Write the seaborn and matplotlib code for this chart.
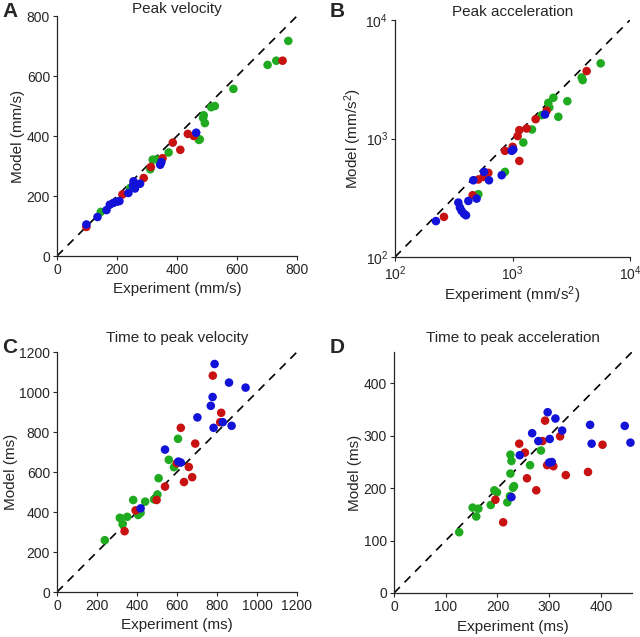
import numpy as np
import pandas as pd
import matplotlib
matplotlib.use("Agg")
import matplotlib.pyplot as plt
import seaborn as sns

sns.set_style("ticks")
plt.rcParams['font.family'] = ['Liberation Sans', 'DejaVu Sans']
plt.rcParams['mathtext.fontset'] = 'custom'
plt.rcParams['mathtext.rm'] = 'Liberation Sans'
plt.rcParams['mathtext.it'] = 'Liberation Sans:italic'
plt.rcParams['mathtext.bf'] = 'Liberation Sans:bold'

# Panel A: peak velocity (mm/s)
a_green_x = [146, 244, 311, 319, 331, 372, 473, 476, 487, 489, 493, 514, 526, 588, 702, 731, 771]
a_green_y = [147, 227, 289, 321, 322, 345, 387, 389, 460, 469, 443, 496, 500, 557, 637, 651, 717]
a_red_x = [98, 218, 255, 289, 313, 352, 386, 411, 436, 456, 752]
a_red_y = [97, 205, 236, 260, 297, 326, 378, 354, 407, 400, 651]
a_blue_x = [98, 135, 165, 176, 188, 199, 208, 238, 253, 255, 260, 277, 344, 348, 464]
a_blue_y = [105, 130, 153, 171, 177, 181, 183, 210, 234, 249, 225, 241, 304, 313, 411]

# Panel B: peak acceleration (mm/s^2)
b_green_x = [512, 863, 1236, 1465, 1772, 2017, 2057, 2227, 2456, 2930, 3880, 3956, 5627]
b_green_y = [339, 523, 925, 1191, 1574, 2000, 1827, 2208, 1525, 2065, 3274, 3110, 4305]
b_red_x = [261, 458, 512, 565, 623, 863, 1003, 1106, 1143, 1143, 1320, 1574, 1953, 4277]
b_red_y = [218, 332, 451, 474, 513, 787, 851, 1048, 1176, 647, 1215, 1455, 1714, 3706]
b_blue_x = [223, 346, 357, 369, 386, 402, 421, 495, 464, 572, 631, 809, 985, 1016, 1892]
b_blue_y = [201, 288, 261, 245, 232, 225, 297, 311, 444, 523, 444, 490, 787, 807, 1596]

# Panel C: time to peak velocity (ms)
c_green_x = [239, 314, 319, 328, 351, 381, 406, 418, 441, 485, 502, 508, 559, 585, 605]
c_green_y = [259, 371, 368, 339, 376, 460, 385, 396, 452, 463, 487, 569, 661, 624, 766]
c_red_x = [338, 393, 498, 540, 599, 619, 635, 659, 676, 691, 779, 821, 816]
c_red_y = [304, 408, 460, 527, 644, 821, 550, 625, 574, 742, 1082, 896, 849]
c_blue_x = [418, 540, 607, 619, 702, 769, 778, 788, 783, 829, 860, 873, 943]
c_blue_y = [418, 712, 652, 647, 873, 931, 975, 1140, 821, 849, 1047, 831, 1022]

# Panel D: time to peak acceleration (ms)
d_green_x = [126, 152, 159, 163, 187, 194, 199, 219, 224, 225, 227, 225, 230, 232, 263, 284]
d_green_y = [116, 163, 146, 161, 168, 196, 192, 173, 185, 264, 252, 228, 201, 204, 244, 272]
d_red_x = [211, 196, 242, 253, 257, 275, 287, 292, 296, 308, 321, 332, 375, 403]
d_red_y = [135, 178, 285, 268, 219, 196, 290, 329, 244, 242, 299, 225, 231, 283]
d_blue_x = [227, 243, 267, 279, 297, 301, 300, 305, 312, 325, 379, 382, 446, 457]
d_blue_y = [183, 263, 305, 290, 345, 294, 249, 250, 333, 310, 321, 285, 319, 287]

GREEN = "#20aa20"
RED = "#c81212"
BLUE = "#1212d8"

W, H = 640, 637
fig = plt.figure(figsize=(W / 100, H / 100), dpi=100)


def add_ax(l, r, t, b):
    return fig.add_axes([l / W, 1 - b / H, (r - l) / W, (b - t) / H])


axA = add_ax(57, 297, 16, 256)
axB = add_ax(395, 630, 20, 257)
axC = add_ax(57, 297, 352, 592)
axD = add_ax(394, 632, 352, 593)

panels = [
    (axA, (a_green_x, a_green_y), (a_red_x, a_red_y), (a_blue_x, a_blue_y)),
    (axB, (b_green_x, b_green_y), (b_red_x, b_red_y), (b_blue_x, b_blue_y)),
    (axC, (c_green_x, c_green_y), (c_red_x, c_red_y), (c_blue_x, c_blue_y)),
    (axD, (d_green_x, d_green_y), (d_red_x, d_red_y), (d_blue_x, d_blue_y)),
]

for ax, g, r, b in panels:
    for (xs, ys), col in [(g, GREEN), (r, RED), (b, BLUE)]:
        df = pd.DataFrame({"x": xs, "y": ys})
        sns.scatterplot(data=df, x="x", y="y", ax=ax, color=col, s=38,
                        edgecolor="none", linewidth=0, clip_on=False, zorder=3)

fs_tick = 10
fs_lab = 11
dash = (0, (5, 4))
# Panel A
axA.plot([0, 800], [0, 800], ls=dash, color="black", lw=1.2, zorder=2)
axA.set_xlim(0, 800); axA.set_ylim(0, 800)
axA.set_xticks([0, 200, 400, 600, 800]); axA.set_yticks([0, 200, 400, 600, 800])
axA.set_title("Peak velocity", fontsize=fs_lab, pad=-1)
axA.set_xlabel("Experiment (mm/s)", fontsize=fs_lab)
axA.set_ylabel("Model (mm/s)", fontsize=fs_lab)

# Panel B
axB.set_xscale("log"); axB.set_yscale("log")
axB.plot([100, 10000], [100, 10000], ls=dash, color="black", lw=1.2, zorder=2)
axB.set_xlim(100, 10000); axB.set_ylim(100, 10000)
axB.set_xticks([100, 1000, 10000]); axB.set_yticks([100, 1000, 10000])
axB.minorticks_off()
axB.set_title("Peak acceleration", fontsize=fs_lab, pad=3)
axB.set_xlabel("Experiment (mm/s$^2$)", fontsize=fs_lab)
axB.set_ylabel("Model (mm/s$^2$)", fontsize=fs_lab)

# Panel C
axC.plot([0, 1200], [0, 1200], ls=dash, color="black", lw=1.2, zorder=2)
axC.set_xlim(0, 1200); axC.set_ylim(0, 1200)
axC.set_xticks(range(0, 1201, 200)); axC.set_yticks(range(0, 1201, 200))
axC.set_title("Time to peak velocity", fontsize=fs_lab, pad=7)
axC.set_xlabel("Experiment (ms)", fontsize=fs_lab)
axC.set_ylabel("Model (ms)", fontsize=fs_lab)

# Panel D
axD.plot([0, 460], [0, 460], ls=dash, color="black", lw=1.2, zorder=2)
axD.set_xlim(0, 460); axD.set_ylim(0, 460)
axD.set_xticks([0, 100, 200, 300, 400]); axD.set_yticks([0, 100, 200, 300, 400])
axD.set_title("Time to peak acceleration", fontsize=fs_lab, pad=7)
axD.set_xlabel("Experiment (ms)", fontsize=fs_lab)
axD.set_ylabel("Model (ms)", fontsize=fs_lab)

for ax in [axA, axB, axC, axD]:
    sns.despine(ax=ax)
    ax.tick_params(labelsize=fs_tick, length=3, width=0.8, pad=2)
    ax.spines["left"].set_linewidth(0.9)
    ax.spines["bottom"].set_linewidth(0.9)
    ax.xaxis.labelpad = 4
    ax.yaxis.labelpad = 1
axB.xaxis.labelpad = 1

for lab, x, y in [("A", 2, 2), ("B", 330, 2), ("C", 2, 338), ("D", 330, 338)]:
    fig.text(x / W, 1 - y / H, lab, fontsize=15, fontweight="bold", va="top", ha="left")

fig.savefig("out.png", dpi=100)
